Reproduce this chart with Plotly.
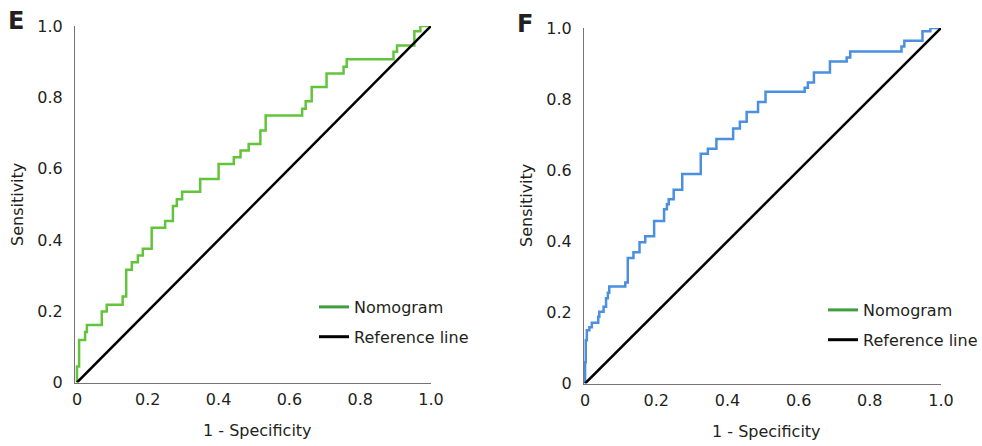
import plotly.graph_objects as go

W, H = 982, 446

# ROC step points: (1 - specificity, sensitivity), drawn with horizontal-then-vertical steps
e_fpr = [0, 0, 0.006, 0.023, 0.028, 0.07, 0.084, 0.129, 0.139, 0.155, 0.172, 0.186,
         0.211, 0.249, 0.271, 0.282, 0.297, 0.348, 0.40, 0.443, 0.462, 0.485, 0.518,
         0.533, 0.636, 0.646, 0.663, 0.705, 0.753, 0.762, 0.894, 0.904, 0.953, 0.97, 1.0]
e_tpr = [0, 0.045, 0.119, 0.142, 0.161, 0.199, 0.218, 0.241, 0.316, 0.337, 0.356, 0.375,
         0.434, 0.453, 0.495, 0.514, 0.535, 0.571, 0.613, 0.632, 0.651, 0.669, 0.707,
         0.749, 0.768, 0.789, 0.829, 0.867, 0.886, 0.907, 0.928, 0.945, 0.985, 1.0, 1.0]

f_fpr = [0, 0, 0.002, 0.005, 0.012, 0.019, 0.037, 0.040, 0.052, 0.059, 0.064, 0.068,
         0.113, 0.120, 0.136, 0.153, 0.169, 0.194, 0.222, 0.230, 0.235, 0.249, 0.273,
         0.325, 0.345, 0.369, 0.416, 0.435, 0.454, 0.486, 0.507, 0.617, 0.626, 0.643,
         0.688, 0.735, 0.745, 0.889, 0.897, 0.948, 0.970, 1.0]
f_tpr = [0, 0.06, 0.122, 0.15, 0.158, 0.171, 0.188, 0.202, 0.216, 0.24, 0.255, 0.273,
         0.284, 0.353, 0.369, 0.397, 0.414, 0.457, 0.49, 0.504, 0.518, 0.545, 0.589,
         0.646, 0.66, 0.688, 0.717, 0.736, 0.764, 0.792, 0.821, 0.832, 0.847, 0.875,
         0.906, 0.917, 0.934, 0.948, 0.964, 0.991, 1.0, 1.0]

ref_line = [0, 1]
tick_vals = [0, 0.2, 0.4, 0.6, 0.8, 1.0]
tick_text = ["0", "0.2", "0.4", "0.6", "0.8", "1.0"]
panel_labels = ["E", "F"]
legend_names = ["Nomogram", "Reference line"]

FONT = "DejaVu Sans"
TXT = "#231f20"
AXIS = "#7a7272"
GREEN = "#62c43a"
LEG_GREEN = "#3f9e3f"
BLUE = "#4a8fe0"


def px(x):
    return x / W


def py(y):
    return 1 - y / H


fig = go.Figure()

# Panel E
fig.add_trace(go.Scatter(x=e_fpr, y=e_tpr, mode="lines", line=dict(color=GREEN, width=2.5, shape="hv"),
                         showlegend=False, xaxis="x", yaxis="y"))
fig.add_trace(go.Scatter(x=ref_line, y=ref_line, mode="lines", line=dict(color="black", width=2.5),
                         showlegend=False, xaxis="x", yaxis="y"))
# Panel F
fig.add_trace(go.Scatter(x=f_fpr, y=f_tpr, mode="lines", line=dict(color=BLUE, width=2.5, shape="hv"),
                         showlegend=False, xaxis="x2", yaxis="y2"))
fig.add_trace(go.Scatter(x=ref_line, y=ref_line, mode="lines", line=dict(color="black", width=2.5),
                         showlegend=False, xaxis="x2", yaxis="y2"))

# Legend entries for each panel
for leg in ["legend", "legend2"]:
    for name, col in zip(legend_names, [LEG_GREEN, "black"]):
        fig.add_trace(go.Scatter(x=[None], y=[None], mode="lines", name=name,
                                 line=dict(color=col, width=3), legend=leg,
                                 legendgroup=leg + name, showlegend=True,
                                 xaxis="x" if leg == "legend" else "x2",
                                 yaxis="y" if leg == "legend" else "y2"))

axis_common = dict(showgrid=False, zeroline=False, showline=True, linecolor=AXIS, linewidth=1,
                   tickvals=tick_vals, ticktext=tick_text, ticks="", automargin=False,
                   tickfont=dict(family=FONT, size=16, color=TXT), fixedrange=True)

fig.update_layout(
    width=W, height=H, margin=dict(l=0, r=0, t=0, b=0, autoexpand=False),
    paper_bgcolor="white", plot_bgcolor="white",
    xaxis=dict(domain=[px(75), px(431)], range=[-0.0056, 1.0], anchor="y",
               ticklabelstandoff=2, **axis_common),
    yaxis=dict(domain=[py(382.5), py(26)], range=[0, 1.0], anchor="x",
               ticklabelstandoff=8, **axis_common),
    xaxis2=dict(domain=[px(584), px(941)], range=[-0.003, 1.0], anchor="y2",
                ticklabelstandoff=2, **axis_common),
    yaxis2=dict(domain=[py(383.5), py(28)], range=[0, 1.0], anchor="x2",
                ticklabelstandoff=8, **axis_common),
    legend=dict(x=px(314), y=py(290), xanchor="left", yanchor="top",
                font=dict(family=FONT, size=16, color=TXT), bgcolor="rgba(0,0,0,0)",
                tracegroupgap=6, itemwidth=30),
    legend2=dict(x=px(823), y=py(293), xanchor="left", yanchor="top",
                 font=dict(family=FONT, size=16, color=TXT), bgcolor="rgba(0,0,0,0)",
                 tracegroupgap=6, itemwidth=30),
    showlegend=True,
)

annots = [
    dict(text="Sensitivity", x=px(17), y=py(205), textangle=-90),
    dict(text="1 - Specificity", x=px(257), y=py(430)),
    dict(text="Sensitivity", x=px(526), y=py(206), textangle=-90),
    dict(text="1 - Specificity", x=px(766), y=py(431)),
]
for a in annots:
    fig.add_annotation(xref="paper", yref="paper", showarrow=False, xanchor="center", yanchor="middle",
                       font=dict(family=FONT, size=16, color=TXT), **a)

for lab, (lx, ly) in zip(panel_labels, [(16, 21), (525, 24)]):
    fig.add_annotation(text="<b>%s</b>" % lab, xref="paper", yref="paper", x=px(lx), y=py(ly),
                       showarrow=False, xanchor="center", yanchor="middle",
                       font=dict(family=FONT, size=24, color=TXT))

fig.write_html("out.html")
